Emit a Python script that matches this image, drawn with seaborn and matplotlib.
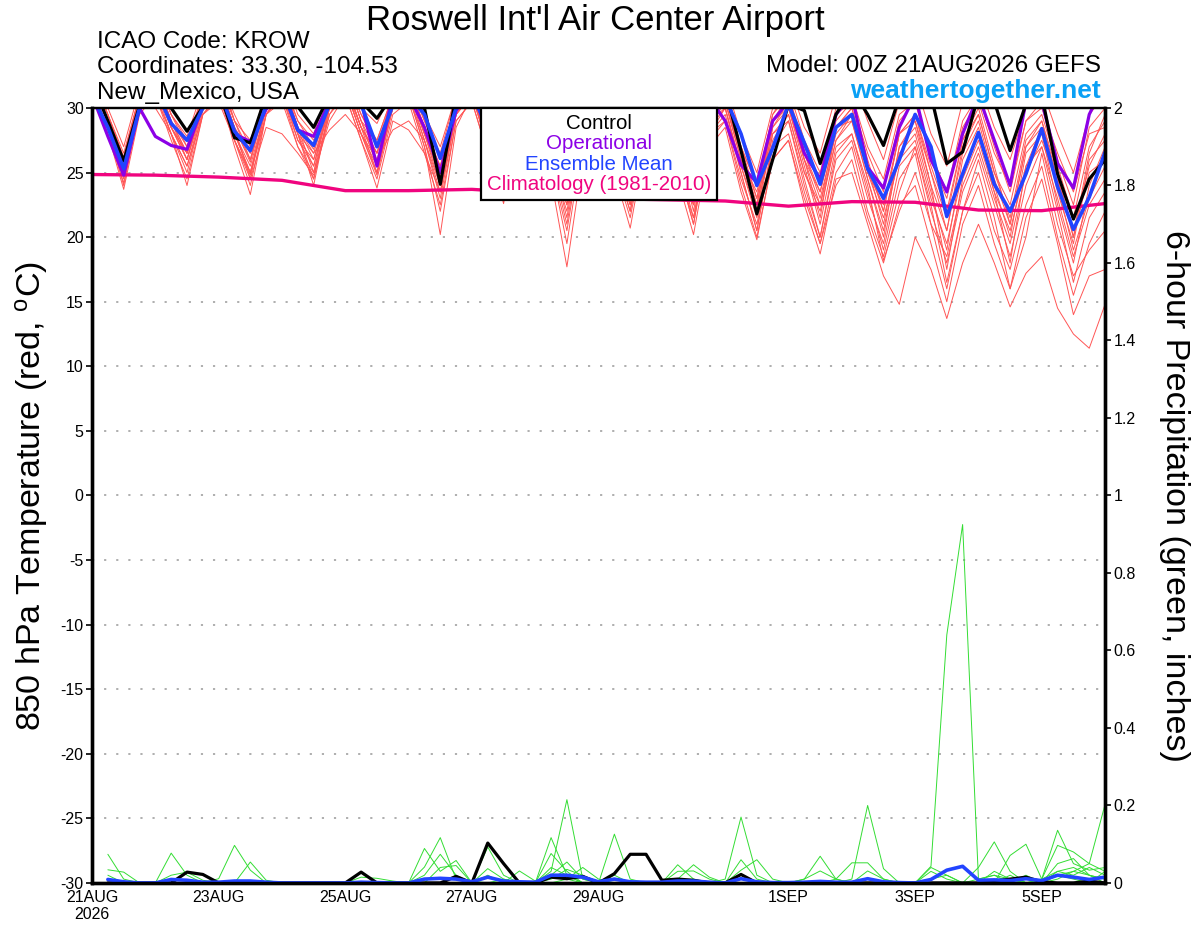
import numpy as np
import pandas as pd
import seaborn as sns
import matplotlib.pyplot as plt
from matplotlib.offsetbox import AnchoredOffsetbox, TextArea, VPacker

# forecast steps: 6-hourly from 21AUG2026 00Z out to 384 h
hours = list(range(0, 385, 6))
precip_hours = list(range(6, 385, 6))
clim_hours = list(range(0, 385, 24))

tick_hours = [0, 48, 96, 144, 192, 264, 312, 360]
tick_labels = ["21AUG\n2026", "23AUG", "25AUG", "27AUG", "29AUG", "1SEP", "3SEP", "5SEP"]

# 850 hPa temperature (C), one row per day: 00Z 06Z 12Z 18Z
control = [32.0, 29.0, 25.9, 30.2, 31.5, 30.0, 28.2, 30.1, 31.5, 27.7, 27.3, 31.0,
           31.5, 30.1, 28.5, 31.0, 32.0, 30.5, 29.2, 31.0, 31.5, 30.0, 24.1, 31.0,
           32.0, 29.0, 26.0, 30.5, 32.0, 29.0, 25.5, 30.5, 32.0, 29.0, 25.5, 30.5,
           32.0, 29.0, 25.0, 31.0, 31.5, 26.7, 21.8, 26.0, 30.3, 29.8, 25.7, 29.5,
           31.5, 29.5, 27.1, 30.8, 32.0, 31.0, 25.7, 26.6, 31.0, 30.5, 26.7, 30.3,
           31.0, 24.9, 21.4, 24.5, 26.0]
operational = [31.0, 27.8, 24.8, 30.0, 27.8, 27.1, 26.8, 30.2, 31.5, 28.0, 27.4, 29.9,
               31.5, 28.3, 27.8, 30.5, 31.5, 30.5, 25.5, 31.0, 31.0, 28.5, 25.0, 29.8,
               31.5, 28.0, 25.0, 29.5, 31.0, 27.5, 24.5, 29.0, 31.0, 28.0, 25.0, 29.5,
               31.0, 28.0, 24.5, 30.8, 29.0, 25.6, 24.2, 29.0, 30.5, 26.5, 24.5, 29.5,
               31.0, 25.4, 23.8, 28.5, 31.0, 26.0, 23.5, 28.0, 31.0, 27.5, 24.0, 30.5,
               30.5, 25.7, 23.8, 29.5, 32.0]
ens_mean = [31.0, 28.5, 25.3, 30.0, 31.5, 28.8, 27.5, 30.0, 31.5, 28.2, 26.7, 30.2,
            31.5, 28.3, 27.1, 30.3, 31.5, 30.3, 27.0, 30.2, 31.0, 29.5, 26.1, 30.0,
            31.0, 28.5, 25.5, 29.8, 31.0, 28.0, 24.0, 29.5, 31.0, 28.0, 24.5, 29.5,
            30.8, 27.5, 24.0, 29.3, 30.8, 28.0, 24.0, 26.9, 30.3, 27.3, 24.1, 28.5,
            29.5, 25.3, 23.0, 26.0, 29.5, 27.0, 21.6, 24.9, 28.1, 24.1, 22.0, 24.9,
            28.4, 23.9, 20.6, 23.1, 26.6]
climatology = [24.85, 24.8, 24.65, 24.4, 23.6, 23.6, 23.7, 23.4, 23.0,
               22.9, 22.8, 22.4, 22.75, 22.7, 22.1, 22.05, 22.6]

mem01 = [32.5, 29.5, 26.5, 31.0, 33.0, 29.5, 27.8, 31.5, 33.0, 29.0, 27.5, 31.0,
         33.0, 29.5, 28.0, 31.5, 33.0, 30.0, 28.8, 31.5, 32.5, 29.5, 27.0, 31.0,
         32.5, 29.0, 26.5, 31.0, 32.0, 28.5, 25.5, 30.5, 32.0, 28.5, 26.0, 30.5,
         32.0, 28.0, 25.5, 30.5, 32.0, 28.0, 25.0, 30.0, 32.0, 28.5, 26.5, 31.0,
         32.5, 29.0, 26.0, 30.5, 32.0, 28.0, 25.5, 30.5, 32.0, 28.5, 26.0, 30.0,
         31.5, 28.0, 25.0, 29.5, 31.0]
mem02 = [31.5, 28.0, 23.7, 29.5, 31.0, 28.0, 25.0, 29.8, 31.5, 27.0, 23.3, 29.5,
         31.0, 27.5, 25.5, 30.0, 31.5, 28.0, 24.8, 30.0, 31.0, 27.0, 20.2, 28.5,
         31.0, 27.5, 24.0, 29.5, 30.5, 26.0, 22.0, 29.0, 31.0, 27.0, 23.5, 29.5,
         31.0, 26.5, 22.5, 29.0, 30.5, 26.0, 22.0, 28.5, 30.0, 25.5, 21.0, 27.0,
         28.0, 24.0, 18.2, 22.0, 25.0, 21.0, 18.5, 24.0, 27.0, 23.0, 19.5, 25.0,
         27.5, 24.0, 19.0, 23.0, 25.5]
mem03 = [32.0, 29.0, 25.0, 30.5, 32.5, 29.0, 26.5, 30.5, 32.0, 28.5, 25.8, 30.5,
         32.5, 28.5, 26.5, 30.5, 32.5, 29.0, 27.5, 31.0, 32.0, 28.5, 25.5, 30.5,
         32.0, 28.5, 25.5, 30.0, 31.5, 27.5, 24.5, 30.0, 31.5, 27.5, 24.0, 30.0,
         31.5, 27.0, 24.0, 29.5, 31.0, 26.5, 23.0, 29.0, 31.0, 26.5, 23.5, 29.0,
         30.5, 26.0, 22.0, 28.0, 29.5, 25.0, 21.5, 27.5, 30.0, 25.5, 21.0, 27.0,
         29.0, 24.5, 20.5, 25.5, 28.0]
mem04 = [31.0, 28.5, 24.5, 29.8, 31.0, 28.0, 24.0, 29.5, 30.5, 27.5, 24.5, 28.5,
         28.0, 26.5, 24.8, 29.0, 31.0, 27.5, 23.8, 29.0, 28.3, 26.5, 23.5, 29.5,
         31.0, 27.0, 23.0, 29.0, 30.5, 25.5, 19.5, 27.5, 30.0, 26.0, 22.5, 28.5,
         30.0, 25.5, 21.0, 28.0, 29.5, 25.0, 20.5, 27.0, 29.0, 24.0, 20.0, 26.5,
         28.0, 23.5, 19.0, 24.5, 26.5, 21.0, 16.0, 22.0, 25.0, 20.5, 17.5, 22.5,
         25.5, 20.0, 15.5, 19.5, 22.0]
mem05 = [32.0, 29.0, 25.5, 30.5, 32.0, 28.5, 26.0, 30.5, 31.5, 28.0, 25.0, 30.0,
         32.0, 28.0, 25.5, 30.5, 32.0, 28.5, 26.0, 30.5, 31.5, 28.0, 24.5, 30.0,
         31.5, 27.0, 22.6, 29.0, 30.0, 24.5, 17.7, 26.0, 29.5, 25.0, 20.7, 27.5,
         29.5, 24.5, 20.2, 27.0, 28.5, 23.5, 19.8, 26.0, 27.5, 22.5, 18.7, 24.5,
         25.0, 21.0, 17.0, 14.8, 20.0, 17.5, 13.7, 18.0, 21.0, 18.0, 14.6, 17.2,
         18.5, 14.5, 12.5, 11.4, 14.8]
mem06 = [33.0, 30.0, 27.0, 31.5, 32.5, 29.5, 27.5, 31.0, 32.5, 29.5, 27.0, 31.5,
         32.5, 29.0, 27.5, 31.0, 32.5, 29.5, 27.0, 31.0, 32.5, 29.0, 26.0, 30.5,
         32.0, 28.5, 26.0, 30.5, 32.0, 28.0, 25.0, 30.0, 32.0, 28.0, 25.5, 30.5,
         31.5, 27.5, 24.5, 30.0, 31.5, 27.0, 24.0, 29.5, 31.5, 27.5, 25.0, 30.0,
         31.0, 27.0, 24.5, 29.5, 30.5, 26.5, 23.5, 29.0, 31.0, 27.0, 23.5, 29.0,
         30.5, 26.0, 22.5, 28.5, 30.0]
mem07 = [31.5, 28.5, 24.0, 30.0, 31.5, 28.0, 25.5, 30.0, 31.0, 27.5, 24.0, 29.5,
         31.5, 27.5, 26.0, 30.0, 31.5, 28.0, 25.5, 30.0, 31.0, 27.5, 23.0, 29.5,
         31.0, 27.0, 24.5, 29.5, 31.0, 27.0, 23.0, 29.5, 30.5, 26.5, 22.5, 29.0,
         30.5, 26.5, 23.0, 29.0, 30.0, 25.5, 21.5, 28.0, 29.5, 25.0, 22.0, 27.5,
         29.0, 24.5, 20.5, 26.5, 28.0, 23.5, 19.0, 26.0, 28.5, 24.0, 20.0, 26.5,
         28.0, 22.5, 18.0, 24.0, 27.0]
mem08 = [32.5, 29.5, 26.0, 31.0, 32.0, 29.0, 26.5, 30.5, 32.5, 29.0, 26.0, 31.0,
         32.0, 28.5, 25.0, 30.5, 32.5, 29.0, 26.5, 31.0, 32.0, 28.5, 24.5, 30.5,
         31.5, 28.0, 25.0, 30.0, 31.5, 27.5, 23.5, 30.0, 31.5, 27.0, 23.0, 29.5,
         31.0, 27.0, 22.0, 29.0, 31.0, 26.5, 22.5, 29.0, 30.5, 26.0, 21.5, 28.5,
         30.0, 25.5, 21.0, 27.0, 29.0, 24.0, 17.5, 24.5, 27.5, 23.5, 18.0, 25.5,
         28.5, 24.5, 20.0, 25.0, 26.0]
mem09 = [32.0, 28.8, 25.5, 30.5, 32.5, 29.0, 27.0, 31.0, 32.0, 28.5, 26.5, 30.5,
         32.5, 28.0, 24.0, 30.0, 32.0, 28.5, 26.5, 30.5, 31.5, 27.5, 23.5, 29.5,
         31.5, 28.0, 25.5, 30.5, 31.5, 27.0, 22.5, 29.5, 31.0, 27.0, 24.0, 29.5,
         30.5, 26.0, 21.5, 28.5, 30.5, 26.0, 23.5, 29.0, 30.5, 26.5, 23.0, 28.0,
         29.5, 25.0, 22.5, 28.0, 29.5, 25.5, 22.0, 27.5, 29.5, 25.0, 22.5, 28.0,
         29.5, 25.5, 21.5, 27.0, 29.0]
mem10 = [31.0, 28.0, 24.8, 30.0, 31.5, 28.5, 26.0, 30.0, 31.5, 28.0, 25.5, 30.0,
         31.0, 27.0, 25.0, 29.5, 31.5, 28.0, 25.0, 30.0, 31.0, 27.0, 22.0, 29.0,
         30.5, 26.5, 23.5, 29.0, 30.5, 26.0, 21.0, 28.5, 30.5, 26.5, 23.0, 29.0,
         30.0, 25.5, 22.5, 28.0, 29.0, 24.5, 21.0, 27.0, 28.0, 23.5, 19.5, 25.0,
         27.0, 22.0, 18.5, 23.5, 27.0, 22.5, 16.5, 22.0, 26.0, 21.5, 16.0, 20.0,
         26.5, 21.0, 17.0, 19.0, 20.5]
mem11 = [32.5, 29.0, 26.0, 31.0, 32.0, 29.0, 26.0, 30.5, 32.0, 28.5, 24.5, 30.5,
         32.0, 28.5, 26.0, 30.5, 32.5, 29.0, 25.5, 30.5, 32.0, 28.0, 25.0, 30.5,
         31.5, 28.0, 24.5, 30.0, 31.0, 27.0, 24.0, 30.0, 31.5, 27.5, 25.0, 30.0,
         31.0, 27.0, 24.5, 29.5, 31.0, 27.0, 24.0, 29.5, 31.0, 27.0, 24.5, 29.5,
         30.5, 26.5, 23.5, 29.0, 30.5, 26.0, 23.0, 28.5, 30.5, 26.5, 24.0, 29.0,
         30.0, 26.5, 23.5, 28.0, 28.5]
mem12 = [31.5, 28.5, 25.0, 30.0, 30.0, 28.0, 25.5, 29.5, 31.0, 27.5, 25.0, 29.5,
         31.0, 28.0, 26.5, 28.3, 29.5, 28.0, 26.0, 28.3, 29.0, 27.5, 24.0, 29.5,
         31.0, 27.5, 25.0, 29.5, 31.0, 26.5, 22.5, 29.0, 30.5, 26.0, 22.0, 28.5,
         30.5, 26.0, 23.5, 28.5, 30.0, 25.0, 20.5, 27.5, 29.5, 25.0, 22.5, 27.5,
         29.5, 25.0, 21.5, 26.0, 27.5, 23.0, 19.5, 25.0, 28.0, 23.5, 20.5, 25.5,
         27.0, 22.0, 16.5, 21.5, 23.5]
mem13 = [32.0, 29.0, 25.8, 30.5, 31.5, 28.5, 26.5, 30.0, 32.0, 28.5, 26.0, 30.5,
         31.5, 28.0, 24.5, 30.0, 32.0, 28.5, 25.0, 30.5, 31.5, 28.0, 24.0, 30.0,
         31.0, 27.5, 24.0, 29.5, 31.0, 26.5, 21.5, 29.0, 30.5, 26.0, 22.0, 28.5,
         30.0, 25.5, 21.0, 28.0, 30.0, 25.5, 22.0, 28.0, 29.0, 24.5, 20.0, 26.0,
         27.5, 23.0, 19.5, 25.5, 27.0, 22.0, 18.0, 23.5, 26.5, 22.5, 18.5, 24.0,
         27.0, 23.0, 18.5, 22.5, 24.5]
mem14 = [32.5, 29.5, 26.2, 31.0, 32.5, 29.5, 27.0, 31.0, 32.0, 29.0, 26.5, 31.0,
         32.0, 29.0, 27.0, 31.0, 32.5, 29.5, 27.5, 31.0, 32.0, 29.0, 26.5, 31.0,
         32.0, 28.5, 25.5, 30.5, 31.5, 28.0, 24.0, 30.0, 31.5, 27.5, 24.5, 30.0,
         31.5, 27.5, 23.5, 29.5, 31.0, 27.0, 23.0, 29.0, 30.0, 26.0, 22.5, 28.5,
         29.0, 24.5, 20.0, 27.0, 28.5, 24.0, 20.5, 26.5, 29.0, 24.5, 21.0, 27.0,
         28.5, 23.5, 19.5, 26.0, 27.5]
mem15 = [31.0, 28.0, 24.2, 29.8, 31.0, 27.5, 24.5, 29.5, 31.0, 27.5, 24.8, 29.5,
         30.5, 27.0, 24.5, 29.5, 31.0, 27.5, 24.5, 29.5, 30.5, 26.5, 22.5, 29.0,
         30.5, 26.5, 23.0, 29.0, 30.0, 25.5, 20.5, 28.0, 30.0, 25.5, 21.5, 28.0,
         29.5, 25.0, 21.5, 27.5, 29.0, 24.0, 20.0, 26.0, 27.5, 23.0, 19.5, 24.0,
         26.0, 21.5, 18.0, 22.5, 24.0, 19.5, 15.0, 21.0, 24.0, 19.5, 16.0, 21.5,
         24.5, 19.5, 14.0, 17.0, 17.5]
mem16 = [32.0, 29.0, 25.2, 30.5, 31.5, 28.5, 26.5, 30.0, 31.5, 28.0, 25.0, 30.0,
         32.0, 28.5, 26.8, 30.5, 31.5, 28.5, 26.5, 30.0, 31.5, 28.0, 25.5, 30.0,
         31.5, 28.0, 24.5, 30.0, 31.0, 27.0, 23.5, 29.5, 31.0, 27.0, 23.5, 29.0,
         31.0, 26.5, 23.0, 29.0, 30.5, 26.5, 22.5, 28.5, 30.5, 26.0, 23.5, 28.5,
         30.0, 25.5, 22.0, 28.0, 29.0, 25.0, 20.5, 27.0, 29.5, 25.0, 21.5, 27.5,
         29.0, 25.0, 20.0, 26.5, 29.5]

# 6-hour precipitation (inches), steps 6 h ... 384 h, 8 steps per row
pcp01 = [0.074, 0.010, 0, 0, 0, 0, 0, 0,
         0, 0, 0, 0, 0, 0, 0, 0,
         0, 0, 0, 0, 0.089, 0.030, 0.058, 0,
         0, 0, 0, 0, 0.117, 0.020, 0, 0,
         0, 0, 0, 0, 0.047, 0.010, 0, 0,
         0.020, 0, 0, 0, 0, 0, 0.010, 0.052,
         0.052, 0.010, 0, 0, 0, 0, 0, 0,
         0, 0, 0.020, 0, 0.050, 0.063, 0.020, 0.010]
pcp02 = [0.034, 0.028, 0, 0, 0, 0, 0, 0,
         0, 0, 0, 0, 0, 0, 0, 0,
         0, 0, 0, 0, 0.041, 0.117, 0.010, 0,
         0, 0, 0, 0, 0.030, 0.215, 0.010, 0,
         0, 0, 0, 0, 0.030, 0.031, 0.010, 0,
         0, 0, 0, 0, 0, 0, 0, 0.010,
         0.200, 0.037, 0, 0, 0, 0, 0, 0,
         0, 0, 0, 0, 0.020, 0.010, 0, 0.030]
pcp03 = [0.020, 0, 0, 0, 0.077, 0.020, 0, 0,
         0, 0, 0, 0, 0, 0, 0, 0,
         0, 0, 0, 0, 0.020, 0.074, 0.020, 0,
         0, 0.010, 0, 0, 0.076, 0.030, 0, 0,
         0, 0, 0, 0, 0.010, 0.047, 0.015, 0,
         0, 0, 0, 0, 0, 0, 0, 0,
         0.031, 0.010, 0, 0, 0.043, 0.640, 0.925, 0.010,
         0.020, 0, 0, 0, 0.010, 0.030, 0.020, 0]
pcp04 = [0, 0, 0, 0, 0.020, 0.028, 0.007, 0,
         0, 0, 0, 0, 0, 0, 0, 0,
         0, 0, 0, 0, 0, 0.040, 0.045, 0,
         0, 0, 0, 0, 0.040, 0.020, 0, 0,
         0, 0, 0, 0, 0, 0, 0, 0.010,
         0.170, 0.020, 0, 0, 0, 0, 0, 0,
         0, 0, 0, 0, 0.010, 0.020, 0, 0.040,
         0.106, 0.030, 0, 0, 0.030, 0.040, 0.020, 0.010]
pcp05 = [0, 0, 0, 0, 0, 0, 0, 0.011,
         0.097, 0.033, 0, 0, 0, 0, 0, 0,
         0, 0, 0, 0, 0, 0, 0, 0,
         0.093, 0.020, 0, 0, 0.020, 0.054, 0.010, 0,
         0, 0, 0, 0, 0, 0, 0, 0,
         0.060, 0.010, 0, 0, 0, 0, 0, 0,
         0, 0, 0, 0, 0.040, 0.020, 0, 0,
         0.030, 0.010, 0, 0, 0.020, 0.030, 0.050, 0.203]
pcp06 = [0, 0, 0, 0, 0, 0, 0, 0,
         0, 0.054, 0.007, 0, 0, 0, 0, 0,
         0, 0, 0, 0, 0, 0, 0, 0,
         0.037, 0.010, 0, 0, 0.010, 0.035, 0.020, 0,
         0.020, 0, 0, 0, 0, 0, 0, 0,
         0.033, 0.060, 0.010, 0, 0, 0, 0, 0,
         0, 0, 0, 0, 0.030, 0.010, 0, 0,
         0, 0.071, 0.100, 0.010, 0.030, 0.020, 0.040, 0.020]
pcp07 = [0, 0, 0, 0, 0, 0, 0, 0,
         0, 0, 0, 0, 0, 0, 0, 0,
         0.015, 0.012, 0.005, 0, 0, 0, 0, 0,
         0.020, 0, 0, 0, 0, 0.010, 0.040, 0.010,
         0, 0, 0, 0, 0, 0, 0, 0,
         0, 0, 0, 0, 0.010, 0.069, 0.010, 0,
         0, 0, 0, 0, 0, 0, 0, 0.010,
         0.020, 0.010, 0, 0.010, 0.136, 0.050, 0.033, 0.040]
pcp08 = [0, 0, 0, 0, 0, 0, 0, 0,
         0, 0, 0, 0, 0, 0, 0, 0,
         0, 0, 0, 0, 0, 0, 0, 0.005,
         0, 0, 0.031, 0.005, 0.020, 0.010, 0, 0,
         0.126, 0.010, 0, 0, 0, 0, 0, 0,
         0, 0, 0, 0, 0.010, 0.031, 0.010, 0,
         0, 0, 0, 0, 0, 0, 0, 0,
         0, 0.020, 0, 0.010, 0.097, 0.080, 0.050, 0.030]
pcp_control = [0, 0, 0, 0, 0, 0.028, 0.022, 0,
               0, 0, 0, 0, 0, 0, 0, 0,
               0.028, 0, 0, 0, 0, 0, 0.017, 0,
               0.103, 0.050, 0, 0, 0.015, 0.011, 0.017, 0,
               0.024, 0.074, 0.074, 0.007, 0.010, 0.007, 0, 0,
               0.022, 0, 0, 0, 0, 0, 0, 0,
               0, 0, 0, 0, 0, 0, 0, 0,
               0.005, 0.010, 0.015, 0.003, 0, 0, 0.005, 0]
pcp_mean = [0.009, 0.003, 0, 0, 0.009, 0.007, 0.002, 0.002,
            0.005, 0.005, 0.002, 0, 0, 0, 0, 0,
            0.002, 0.001, 0, 0, 0.010, 0.012, 0.010, 0.003,
            0.015, 0.005, 0.003, 0.002, 0.020, 0.020, 0.015, 0.003,
            0.010, 0.003, 0.002, 0.002, 0.005, 0.005, 0.002, 0,
            0.011, 0.003, 0.001, 0.001, 0.002, 0.004, 0.002, 0.002,
            0.011, 0.003, 0.001, 0, 0.009, 0.033, 0.043, 0.007,
            0.008, 0.006, 0.011, 0.006, 0.020, 0.015, 0.009, 0.015]

temp_members = [mem01, mem02, mem03, mem04, mem05, mem06, mem07, mem08,
                mem09, mem10, mem11, mem12, mem13, mem14, mem15, mem16]
pcp_members = [pcp01, pcp02, pcp03, pcp04, pcp05, pcp06, pcp07, pcp08]

RED = "#ff5555"
GREEN = "#33dd33"
PURPLE = "#8c00e6"
BLUE = "#2244ff"
PINK = "#f0047f"

sns.set_style("white")
plt.rcParams["font.family"] = ["Liberation Sans", "DejaVu Sans"]
plt.rcParams["mathtext.fontset"] = "custom"
plt.rcParams["mathtext.rm"] = "Liberation Sans"
plt.rcParams["mathtext.it"] = "Liberation Sans"
plt.rcParams["axes.unicode_minus"] = False
plt.rcParams["text.color"] = "black"
plt.rcParams["xtick.color"] = "black"
plt.rcParams["ytick.color"] = "black"

temp_df = pd.DataFrame({
    "hour": np.tile(hours, len(temp_members)),
    "temp": np.concatenate(temp_members),
    "member": np.repeat(np.arange(len(temp_members)), len(hours)),
})
pcp_df = pd.DataFrame({
    "hour": np.tile(precip_hours, len(pcp_members)),
    "pcp": np.concatenate(pcp_members),
    "member": np.repeat(np.arange(len(pcp_members)), len(precip_hours)),
})

fig = plt.figure(figsize=(12, 9.27), dpi=100)
ax1 = fig.add_axes([0.0767, 0.0475, 0.8442, 0.836])
ax2 = ax1.twinx()

# temperature on the left axis
sns.lineplot(data=temp_df, x="hour", y="temp", units="member", estimator=None,
             color=RED, lw=0.7, ax=ax1, legend=False)
sns.lineplot(x=clim_hours, y=climatology, color=PINK, lw=2.4, ax=ax1)
sns.lineplot(x=hours, y=operational, color=PURPLE, lw=2.3, ax=ax1)
sns.lineplot(x=hours, y=control, color="black", lw=2.3, ax=ax1)
sns.lineplot(x=hours, y=ens_mean, color=BLUE, lw=2.6, ax=ax1)

# precipitation on the right axis
sns.lineplot(data=pcp_df, x="hour", y="pcp", units="member", estimator=None,
             color=GREEN, lw=0.7, ax=ax2, legend=False)
sns.lineplot(x=precip_hours, y=pcp_control, color="black", lw=2.3, ax=ax2)
sns.lineplot(x=precip_hours, y=pcp_mean, color=BLUE, lw=2.6, ax=ax2)

ax1.set_xlim(0, 384)
ax1.set_ylim(-30, 30)
ax2.set_ylim(0, 2)
ax1.set_xticks(tick_hours, tick_labels)
ax1.set_yticks(range(-30, 31, 5))
ax2.set_yticks(np.arange(0, 2.01, 0.2))
ax2.set_yticklabels(["0", "0.2", "0.4", "0.6", "0.8", "1", "1.2", "1.4", "1.6", "1.8", "2"])
for ax in (ax1, ax2):
    ax.set_xlabel("")
    ax.set_ylabel("")
    for side, w in [("left", 2.4), ("right", 2.4), ("bottom", 2.4), ("top", 1.6)]:
        ax.spines[side].set_visible(True)
        ax.spines[side].set_color("black")
        ax.spines[side].set_linewidth(w)
    ax.tick_params(direction="out", length=4, width=1.2, labelsize=11.5, pad=2,
                   colors="black")
ax1.tick_params(axis="x", pad=1)

ax1.set_axisbelow(True)
ax1.yaxis.grid(True, linestyle=(0, (1.2, 5.5)), color="#a8a8a8", lw=1.3)
ax1.xaxis.grid(False)
ax2.grid(False)

# legend: coloured text only, centred under the top edge
rows = [("Control", "black"), ("Operational", PURPLE),
        ("Ensemble Mean", BLUE), ("Climatology (1981-2010)", PINK)]
texts = [TextArea(t, textprops=dict(color=c, fontsize=14.8)) for t, c in rows]
packed = VPacker(children=texts, align="center", pad=0, sep=1)
box = AnchoredOffsetbox(loc="upper center", child=packed, pad=0.28, borderpad=0,
                        frameon=True, bbox_to_anchor=(0.5005, 1.0),
                        bbox_transform=ax2.transAxes, prop=dict(size=14.8))
box.patch.set_edgecolor("black")
box.patch.set_linewidth(1.6)
box.set_zorder(10)
ax2.add_artist(box)

# header text
fig.text(0.496, 0.978, "Roswell Int'l Air Center Airport", ha="center", va="center",
         fontsize=25)
fig.text(0.0808, 0.9545, "ICAO Code: KROW", ha="left", va="center", fontsize=17.5)
fig.text(0.0808, 0.9275, "Coordinates: 33.30, -104.53", ha="left", va="center",
         fontsize=17.5)
fig.text(0.0808, 0.8995, "New_Mexico, USA", ha="left", va="center", fontsize=17.5)
fig.text(0.9175, 0.9285, "Model: 00Z 21AUG2026 GEFS", ha="right", va="center",
         fontsize=17.5)
fig.text(0.9175, 0.9015, "weathertogether.net", ha="right", va="center",
         fontsize=19, fontweight="bold", color="#0aa0f5")

fig.text(0.026, 0.4644, "850 hPa Temperature (red, $^{\\rm o}$C)", rotation=90,
         ha="center", va="center", fontsize=24.5)
fig.text(0.979, 0.465, "6-hour Precipitation (green, inches)", rotation=270,
         ha="center", va="center", fontsize=24.5)

fig.savefig("out.png", dpi=100)
